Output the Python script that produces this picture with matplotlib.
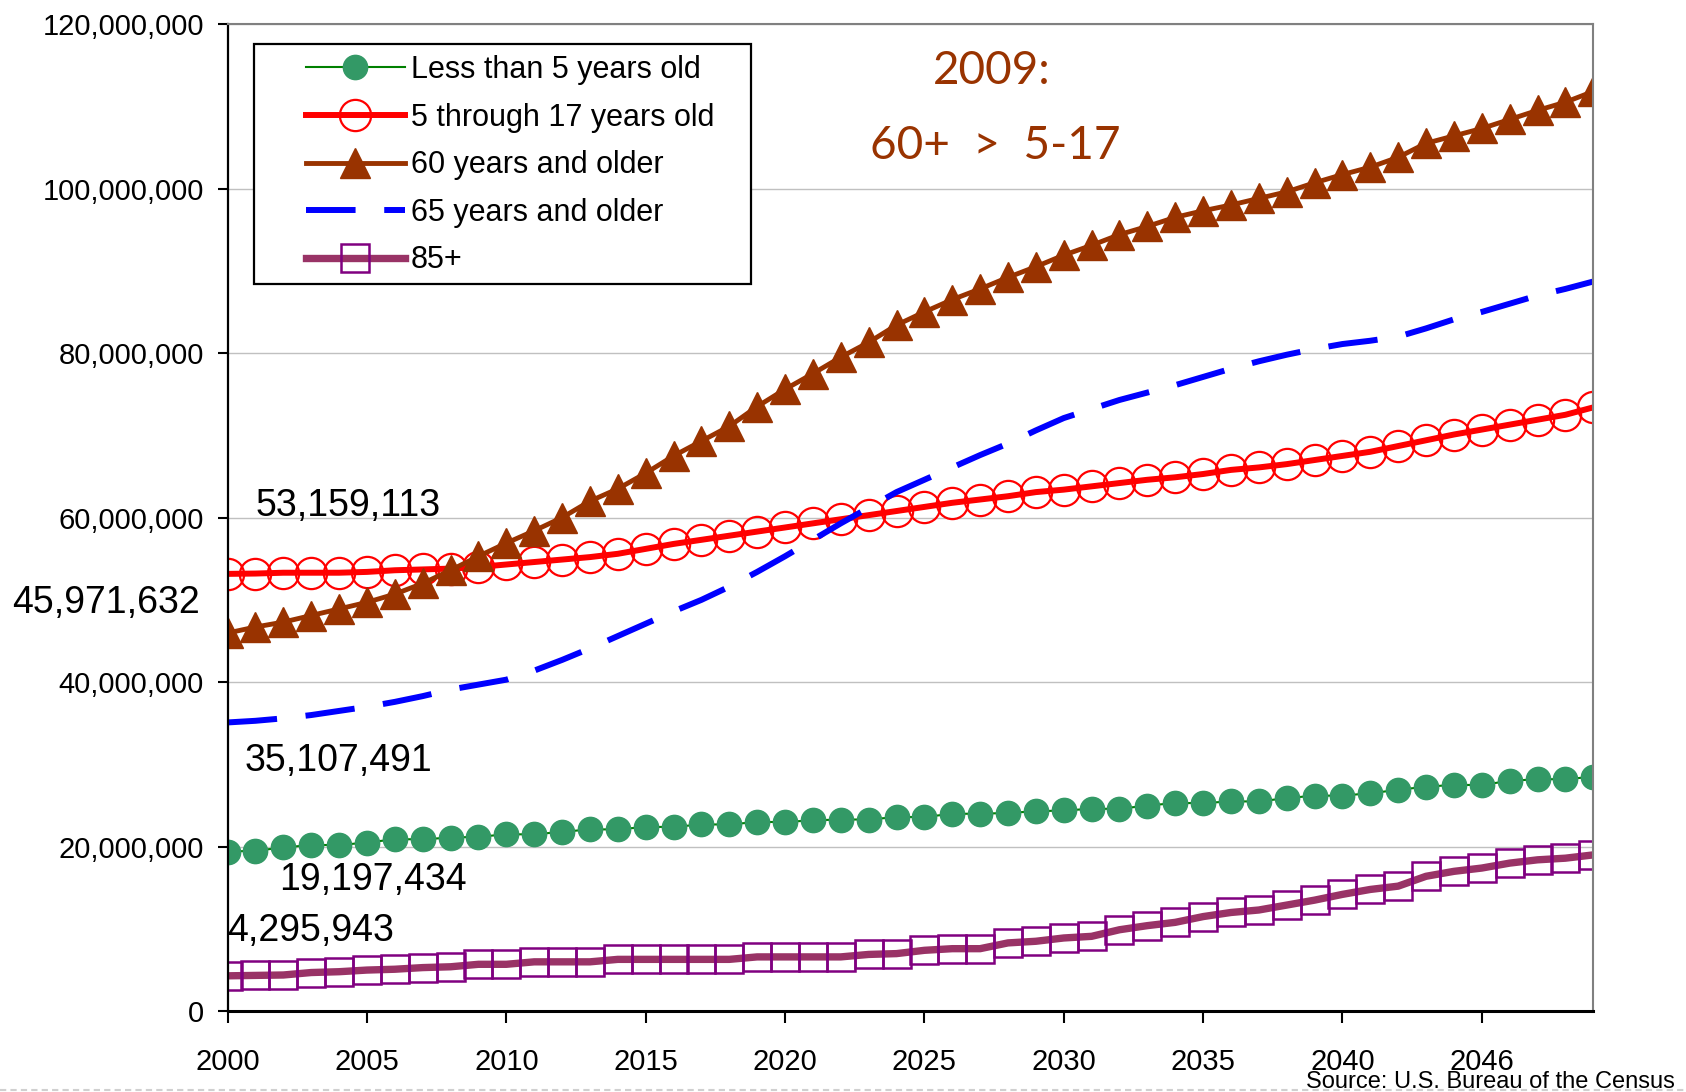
import matplotlib
matplotlib.use("Agg")
import matplotlib.pyplot as plt
from matplotlib.ticker import FuncFormatter, MultipleLocator
from matplotlib.legend_handler import HandlerLine2D
from matplotlib.lines import Line2D
from matplotlib.patches import Rectangle
import numpy as np

# Population projections (millions), U.S. Census Bureau
years = list(range(2000, 2050))

under5 = [19.4, 19.5, 19.9, 20.2, 20.2, 20.5, 20.9, 20.9, 21.1, 21.2,
          21.5, 21.5, 21.8, 22.1, 22.1, 22.4, 22.4, 22.7, 22.7, 23.0,
          23.0, 23.2, 23.3, 23.3, 23.6, 23.6, 24.0, 24.0, 24.1, 24.3,
          24.4, 24.6, 24.6, 25.0, 25.3, 25.3, 25.5, 25.5, 25.9, 26.2,
          26.2, 26.5, 26.9, 27.3, 27.5, 27.5, 28.0, 28.2, 28.2, 28.5]

age5_17 = [53.16, 53.2, 53.3, 53.3, 53.3, 53.4, 53.6, 53.7, 53.8, 54.0,
           54.3, 54.6, 54.9, 55.2, 55.6, 56.2, 56.8, 57.3, 57.8, 58.3,
           58.8, 59.3, 59.8, 60.3, 60.8, 61.3, 61.8, 62.2, 62.6, 63.1,
           63.4, 63.8, 64.2, 64.6, 64.9, 65.3, 65.8, 66.1, 66.5, 67.0,
           67.5, 68.0, 68.7, 69.4, 70.1, 70.7, 71.3, 71.9, 72.5, 73.4]

age60 = [45.97, 46.7, 47.3, 48.1, 48.9, 49.7, 50.7, 52.0, 53.6, 55.3,
         56.9, 58.4, 60.0, 62.0, 63.5, 65.4, 67.5, 69.3, 71.1, 73.5,
         75.6, 77.5, 79.5, 81.3, 83.4, 85.0, 86.5, 87.8, 89.2, 90.5,
         91.9, 93.1, 94.4, 95.4, 96.5, 97.3, 98.0, 98.8, 99.6, 100.7,
         101.7, 102.6, 103.8, 105.5, 106.4, 107.3, 108.4, 109.5, 110.5, 111.8]

age65 = [35.1, 35.3, 35.6, 36.0, 36.5, 37.0, 37.6, 38.3, 39.1, 39.7,
         40.3, 41.4, 42.7, 44.1, 45.6, 47.1, 48.6, 50.0, 51.6, 53.4,
         55.3, 57.3, 59.3, 61.2, 63.1, 64.6, 66.1, 67.6, 69.0, 70.6,
         72.1, 73.2, 74.3, 75.2, 76.1, 77.1, 78.1, 79.0, 79.8, 80.5,
         81.1, 81.5, 82.0, 83.0, 84.1, 85.0, 86.0, 87.0, 87.8, 88.7]

age85 = [4.3, 4.35, 4.4, 4.7, 4.8, 5.0, 5.1, 5.3, 5.4, 5.7,
         5.7, 6.0, 6.0, 6.0, 6.3, 6.3, 6.3, 6.3, 6.3, 6.6,
         6.6, 6.6, 6.6, 6.9, 7.0, 7.4, 7.6, 7.6, 8.3, 8.5,
         8.9, 9.1, 9.9, 10.4, 10.8, 11.5, 12.0, 12.3, 12.9, 13.5,
         14.2, 14.8, 15.2, 16.4, 17.0, 17.4, 18.0, 18.4, 18.6, 19.0]

xtick_pos = [2000, 2005, 2010, 2015, 2020, 2025, 2030, 2035, 2040, 2045]
xtick_labels = ['2000', '2005', '2010', '2015', '2020', '2025', '2030', '2035', '2040', '2046']

plt.rcParams['font.family'] = ['Liberation Sans', 'DejaVu Sans']

fig = plt.figure(figsize=(16.86, 10.92), dpi=100)
ax = fig.add_axes([0.135, 0.074, 0.81, 0.904])

M = 1e6
ax.plot(years, np.array(under5) * M, color='#008000', lw=1.5, marker='o',
        ms=17.5, mfc='#339966', mec='#339966', label='Less than 5 years old')
ax.plot(years, np.array(age5_17) * M, color='#FF0000', lw=4.3, marker='o',
        ms=22.5, mfc='none', mec='#FF0000', mew=1.6, label='5 through 17 years old')
ax.plot(years, np.array(age60) * M, color='#993300', lw=3.5, marker='^',
        ms=22, mfc='#993300', mec='#993300', label='60 years and older')
ax.plot(years, np.array(age65) * M, color='#0000FF', lw=4.3,
        dashes=(8.3, 4.8), label='65 years and older')
ax.plot(years, np.array(age85) * M, color='#993366', lw=5.3, marker='s',
        ms=20.5, mfc='none', mec='#800080', mew=1.8, label='85+')

ax.set_xlim(2000, 2049)
ax.set_ylim(0, 120e6)
ax.yaxis.set_major_locator(MultipleLocator(20e6))
ax.yaxis.set_major_formatter(FuncFormatter(lambda v, p: f'{int(v):,}'))
ax.set_xticks(xtick_pos)
ax.set_xticklabels(xtick_labels)
ax.tick_params(axis='y', labelsize=21, length=7, width=1.5, pad=10, direction='out')
ax.tick_params(axis='x', labelsize=21, length=8.5, width=1.5, pad=18, direction='out')

ax.grid(axis='y', color='#C0C0C0', lw=1)
ax.set_axisbelow(True)
ax.spines['left'].set_linewidth(1.6)
ax.spines['left'].set_color('black')
ax.spines['bottom'].set_linewidth(2.2)
ax.spines['bottom'].set_color('black')
for s in ('top', 'right'):
    ax.spines[s].set_color('#808080')
    ax.spines[s].set_linewidth(1.5)

# value labels
ax.text(2001.0, 61.4e6, '53,159,113', fontsize=27, ha='left', va='center', clip_on=False)
ax.text(1992.28, 49.6e6, '45,971,632', fontsize=27, ha='left', va='center', clip_on=False)
ax.text(2000.6, 30.4e6, '35,107,491', fontsize=27, ha='left', va='center', clip_on=False)
ax.text(2001.85, 16.0e6, '19,197,434', fontsize=27, ha='left', va='center', clip_on=False)
ax.text(2000.0, 9.7e6, '4,295,943', fontsize=27, ha='left', va='center', clip_on=False)

ax.text(2027.4, 114.3e6, '2009:', fontsize=33, family='Lato', color='#993300',
        ha='center', va='center')
ax.text(2027.55, 105.2e6, '60+  >  5-17', fontsize=33, family='Lato', color='#993300',
        ha='center', va='center')

# legend frame drawn separately so its size matches the original box
ax.add_patch(Rectangle((0.019, 0.737), 0.364, 0.243, transform=ax.transAxes,
                       fc='white', ec='black', lw=1.6, zorder=4.5))
hm = {h: HandlerLine2D(numpoints=1, xpad=1.34) for h in ax.get_lines()}
leg = ax.legend(loc='upper left', bbox_to_anchor=(0.019, 0.980), borderaxespad=0,
                fontsize=22, handlelength=4.58, handletextpad=0.2, labelspacing=0.575,
                borderpad=0.37, frameon=False, handler_map=hm)
leg.set_zorder(5)

fig.text(0.9935, 0.0095, 'Source: U.S. Bureau of the Census', fontsize=17,
         ha='right', va='center')
fig.add_artist(Line2D([0, 1], [0.002, 0.002], color='#D0D0D0', lw=1.5,
                      ls=(0, (3, 2)), transform=fig.transFigure))

fig.savefig('out.png', dpi=100)
